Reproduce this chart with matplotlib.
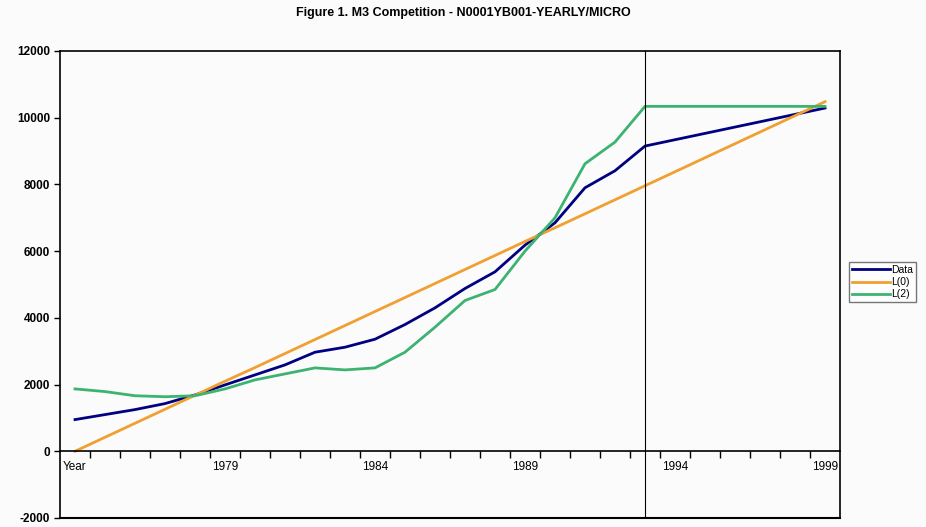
import matplotlib
matplotlib.use("Agg")
import matplotlib.pyplot as plt
import numpy as np

plt.rcParams['font.family'] = ['Liberation Sans', 'DejaVu Sans']
plt.rcParams['axes.unicode_minus'] = False

# category axis: first row of the sheet is the "Year" header, then 1975..1999
categories = ["Year"] + [str(y) for y in range(1975, 2000)]
shown_labels = {0: "Year", 5: "1979", 10: "1984", 15: "1989", 20: "1994", 25: "1999"}

data = [950, 1100, 1250, 1430, 1690, 1990, 2290, 2590, 2970, 3120, 3360, 3800, 4300,
        4880, 5380, 6180, 6850, 7900, 8410, 9150, 9340, 9530, 9720, 9910, 10100, 10290]
l0 = [0, 420, 840, 1260, 1680, 2100, 2510, 2930, 3350, 3770, 4190, 4610, 5030,
      5450, 5870, 6290, 6700, 7120, 7540, 7960, 8380, 8800, 9220, 9640, 10060, 10480]
l2 = [1870, 1790, 1665, 1635, 1665, 1870, 2140, 2320, 2500, 2440, 2500, 2970, 3720,
      4520, 4850, 6000, 7000, 8620, 9270, 10340, 10340, 10340, 10340, 10340, 10340, 10340]
forecast_origin = "1993"

fig = plt.figure(figsize=(9.26, 5.27), dpi=100, facecolor="#fbfbfb")
ax = fig.add_axes([60/926, 9/527, 780/926, 467/527])
ax.set_facecolor("#fbfbfb")

x = np.arange(len(categories))
ax.plot(x, data, color="#000080", lw=2, label="Data")
ax.plot(x, l0, color="#f0a030", lw=2, label="L(0)")
ax.plot(x, l2, color="#3cb371", lw=2, label="L(2)")
ax.axvline(categories.index(forecast_origin), color="black", lw=0.8)

ax.set_xlim(-0.5, len(categories) - 0.5)
ax.set_ylim(-2000, 12000)
ax.set_yticks(np.arange(-2000, 12001, 2000))
ax.tick_params(axis="y", labelsize=8.5, length=4, width=1, pad=3)
for t in ax.get_yticklabels():
    t.set_fontweight("bold")

# x axis crosses at zero, labels in the category centres, ticks between them
ax.spines["bottom"].set_position(("data", 0))
ax.axhline(-2000, color="black", lw=1.5, clip_on=False)
ax.set_xticks(list(shown_labels.keys()))
ax.set_xticklabels(list(shown_labels.values()))
ax.set_xticks(np.arange(0.5, len(categories) - 1, 1), minor=True)
ax.tick_params(axis="x", which="major", length=0, labelsize=8.5, pad=7)
ax.tick_params(axis="x", which="minor", length=5, width=1)
for s in ax.spines.values():
    s.set_linewidth(1.2)

fig.text(0.5, 0.975, "Figure 1. M3 Competition - N0001YB001-YEARLY/MICRO",
         ha="center", va="center", fontsize=9, fontweight="bold")

fig.legend(loc="upper left", bbox_to_anchor=(849/926, 1 - 262/527), fontsize=7.5,
           frameon=True, fancybox=False, edgecolor="#555555", handlelength=3.6,
           handletextpad=0.15, borderpad=0.3, labelspacing=0.2, borderaxespad=0)

fig.savefig("out.png", dpi=100, facecolor=fig.get_facecolor())
